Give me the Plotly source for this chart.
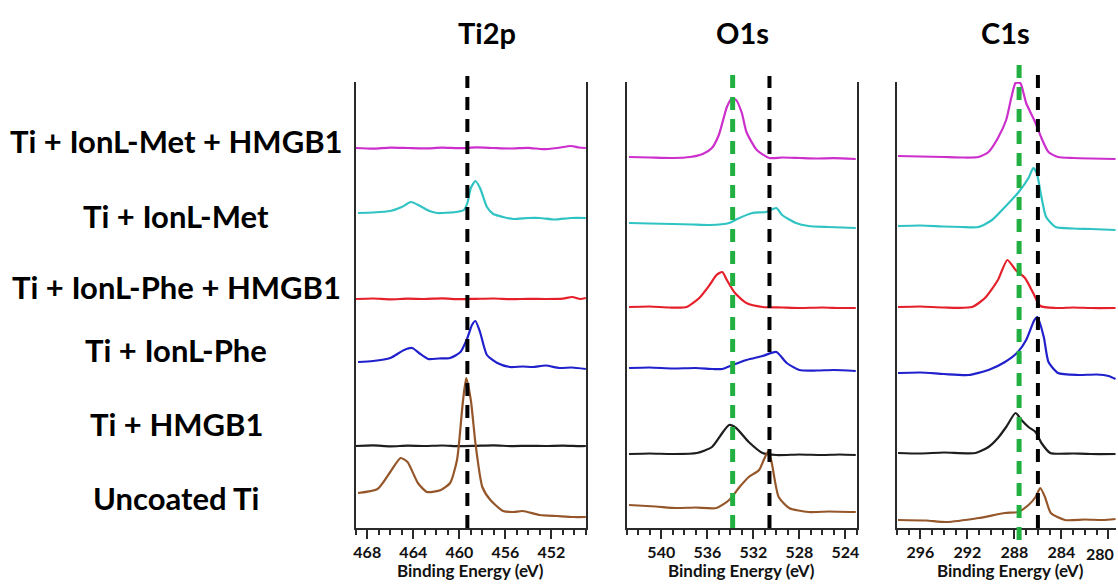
import plotly.graph_objects as go

W, H = 1118, 584

# ---------------- data (binding energy in eV, stacked intensity in a.u.) ----------------
samples = ["Ti + IonL-Met + HMGB1", "Ti + IonL-Met", "Ti + IonL-Phe + HMGB1",
           "Ti + IonL-Phe", "Ti + HMGB1", "Uncoated Ti"]
colors = ["#cc2fcc", "#30c3c3", "#e5202a", "#2020cc", "#1e1e1e", "#95562a"]
panel_titles = ["Ti2p", "O1s", "C1s"]

# Ti2p
ti_met_hmgb1_E = [469, 467.5, 466, 464.5, 463, 461.5, 460, 458.5, 457, 455.5, 454, 452.7, 451.5, 450.3, 449.6, 449]
ti_met_hmgb1_I = [380, 379.3, 380.4, 380, 379.6, 380.3, 379.8, 380.6, 380, 379.5, 380.2, 378.8, 380, 382, 380.5, 380]
ti_met_E = [468.8, 467.5, 466.0, 465.0, 464.2, 463.4, 462.6, 461.9, 460.3, 459.6, 459.3, 459.0, 458.6,
            458.2, 457.6, 457.05, 456.2, 455.3, 454.0, 453.0, 451.7, 450.3, 449.0]
ti_met_I = [315, 315.5, 317, 321, 326, 322, 317, 315, 316, 318, 325, 340, 347, 340, 321, 314, 311, 309,
            310, 310, 308.5, 310, 310]
ti_phe_hmgb1_E = [469, 467.5, 466, 464.5, 463, 461.5, 460, 458.5, 457, 455.5, 454, 452.5, 451, 450.2, 449.5, 449]
ti_phe_hmgb1_I = [229, 229.5, 228.7, 229.3, 229, 229.6, 228.8, 229.2, 229.5, 228.8, 229.2, 229, 229.4, 231, 229, 230]
ti_phe_E = [468.8, 467.5, 466.0, 464.8, 464.1, 463.5, 462.7, 461.8, 460.8, 459.9, 459.3, 458.9, 458.6, 458.2,
            457.6, 456.7, 455.6, 454.5, 453.6, 452.5, 451.3, 450.2, 449]
ti_phe_I = [166, 167, 170, 178, 180, 175, 169, 169.5, 170, 176, 190, 203, 207, 196, 173, 165, 161, 161.5,
            161, 162.5, 160, 160.5, 159]
ti_hmgb1_E = [469, 467.5, 466, 464.5, 463, 461.5, 460, 458.5, 457, 455.5, 454, 452.5, 451, 449.5, 449]
ti_hmgb1_I = [82, 82.6, 81.7, 82.3, 82, 82.5, 81.8, 82.2, 82.6, 81.9, 82.2, 82, 82.4, 81.8, 82]
ti_unc_E = [468.8, 467.1, 466.0, 465.1, 464.5, 463.6, 462.8, 461.6, 460.8, 460.2, 459.7, 459.4,
            459.0, 458.6, 458.0, 457.3, 456.2, 455.3, 454.5, 453.0, 451.5, 450.1, 449]
ti_unc_I = [35, 39, 56, 70, 66, 45, 36, 38, 45, 68, 125, 150, 128, 85, 41, 28, 17, 16, 17, 13, 12, 11, 11]

# O1s
o_met_hmgb1_E = [542.8, 541, 539, 537.5, 536.4, 535.6, 535.0, 534.3, 533.9, 533.5, 533.0, 532.6, 531.7,
                 530.6, 529.5, 528.0, 526.5, 525, 523.1]
o_met_hmgb1_I = [371, 370.5, 370, 371, 374, 380, 393, 421, 429, 428, 415, 396, 378, 370, 370.5, 370, 369.5, 369.8, 369]
o_met_E = [542.8, 541, 539, 537.3, 535.8, 534.1, 533.4, 532.1, 530.9, 530.0, 529.5, 528.3, 527.2, 525.5, 523.1]
o_met_I = [305, 304.5, 304, 303.5, 303, 305, 309, 315, 316, 320, 313, 305, 302, 301, 300]
o_phe_hmgb1_E = [542.8, 541, 539.3, 537.8, 536.7, 535.8, 535.2, 534.7, 534.3, 533.6, 532.6, 531.2, 529.5,
                 528, 526, 524.5, 523.1]
o_phe_hmgb1_I = [221, 221.5, 220.5, 221, 230, 243, 253, 256, 248, 235, 225, 221, 220.5, 220, 220.5, 220, 220]
o_phe_E = [542.8, 541, 539, 537, 535.5, 534.7, 533.8, 532.6, 531.2, 530.0, 529.1, 528.0, 526.5, 525, 523.1]
o_phe_I = [160, 160.5, 159.5, 160, 159, 159, 163, 168, 172, 176, 165, 158, 157.5, 158, 157]
o_hmgb1_E = [542.8, 541, 539, 536.9, 535.6, 534.7, 534.1, 533.5, 532.4, 531.2, 530.0, 528, 526, 524.5, 523.1]
o_hmgb1_I = [74, 74.5, 74, 75, 81, 95, 103, 100, 86, 75, 73, 73.5, 73, 73.5, 73]
o_unc_E = [542.8, 540.5, 538.7, 537, 535.2, 534.1, 533.2, 532.4, 531.5, 531.1, 530.7, 530.4, 529.8,
           528.9, 527.2, 525.5, 523.1]
o_unc_I = [23, 21.5, 20, 20.5, 20, 28, 41, 51, 58, 68, 77, 65, 31, 20, 16, 16.5, 16]

# C1s
c_met_hmgb1_E = [297.9, 296, 294, 292.5, 291.05, 290.2, 289.4, 288.7, 288.25, 287.9, 287.5, 287.0, 286.2,
                 285.7, 285.1, 284.3, 283, 281.5, 279.4]
c_met_hmgb1_I = [372, 371.5, 371, 370.5, 371, 376, 390, 408, 431, 445, 445, 425, 405, 390, 376, 371, 370, 369.5, 369]
c_met_E = [297.9, 296, 294, 292.5, 291.05, 289.9, 288.8, 287.7, 286.8, 286.4, 286.1, 285.7, 285.3, 284.5,
           283, 281.5, 279.4]
c_met_I = [302, 302.5, 301.5, 301, 301, 308, 321, 335, 350, 360, 355, 331, 311, 301, 299.5, 299, 298]
c_phe_hmgb1_E = [297.9, 296, 294, 291.6, 290.5, 289.4, 288.6, 287.9, 287.1, 286.4, 285.8, 284.5, 283,
                 281.5, 279.4]
c_phe_hmgb1_I = [221, 221.5, 220.5, 221, 230, 248, 268, 258, 250, 235, 222, 220, 220.5, 220, 220]
c_phe_E = [297.9, 296, 294, 291.9, 290.2, 288.8, 287.7, 287.0, 286.3, 286.05, 285.5, 285.1, 284.3,
           282.6, 281, 280.0, 279.4]
c_phe_I = [155, 155.5, 154, 153, 158, 166, 176, 188, 208, 211, 191, 166, 155, 153, 153.5, 152, 149]
c_hmgb1_E = [297.9, 296, 294, 291.3, 290.2, 289.4, 288.7, 287.9, 287.4, 286.8, 286.2, 285.7, 284.95,
             283, 281.5, 279.4]
c_hmgb1_I = [75, 74.5, 75.5, 75, 81, 90, 101, 115, 108, 101, 96, 85, 75, 74.5, 74, 74]
c_unc_E = [297.9, 295.5, 293.8, 291.05, 288.8, 287.7, 286.8, 286.2, 285.8, 285.4, 284.9, 283.7,
           282, 280.5, 279.4]
c_unc_I = [8, 7.5, 6, 10, 15, 16, 23, 31, 40, 31, 15, 8, 8.5, 8, 9]

ranges = [[469, 449], [543, 523], [298, 279.36]]
tick0s = [468, 540, 296]
edge_tick_label = "280"   # last C1s tick label, sitting at the cropped right edge
black_ref = [459.3, 530.6, 286.0]
green_ref = [None, 533.8, 287.6]

panels = [
    [(ti_met_hmgb1_E, ti_met_hmgb1_I), (ti_met_E, ti_met_I), (ti_phe_hmgb1_E, ti_phe_hmgb1_I),
     (ti_phe_E, ti_phe_I), (ti_hmgb1_E, ti_hmgb1_I), (ti_unc_E, ti_unc_I)],
    [(o_met_hmgb1_E, o_met_hmgb1_I), (o_met_E, o_met_I), (o_phe_hmgb1_E, o_phe_hmgb1_I),
     (o_phe_E, o_phe_I), (o_hmgb1_E, o_hmgb1_I), (o_unc_E, o_unc_I)],
    [(c_met_hmgb1_E, c_met_hmgb1_I), (c_met_E, c_met_I), (c_phe_hmgb1_E, c_phe_hmgb1_I),
     (c_phe_E, c_phe_I), (c_hmgb1_E, c_hmgb1_I), (c_unc_E, c_unc_I)],
]

# ---------------- layout geometry (pixels) ----------------
px_left = [355, 627, 898]
px_right = [586, 858, 1118]
plot_top, plot_bot = 82, 528

def fx(px):
    return px / W

def fy(py):
    return (H - py) / H

FONT = "Lato"
TICKFONT = dict(family=FONT, size=16, color="#111", weight="bold")
fig = go.Figure()

for p in range(3):
    sfx = "" if p == 0 else str(p + 1)
    for s in range(6):
        E, I = panels[p][s]
        fig.add_trace(go.Scatter(x=E, y=I, mode="lines", xaxis="x" + sfx, yaxis="y" + sfx,
                                 line=dict(color=colors[s], width=2.2, shape="spline", smoothing=0.6),
                                 showlegend=False, name=samples[s]))
    fig.layout["xaxis" + sfx] = dict(
        domain=[fx(px_left[p]), fx(px_right[p])], range=ranges[p], anchor="y" + sfx,
        showline=True, linecolor="#2a2a2a", linewidth=2, showgrid=False, zeroline=False,
        ticks="outside", ticklen=9, tickwidth=2, tickcolor="#2a2a2a",
        tick0=tick0s[p], dtick=4, ticklabeloverflow="hide past div",
        tickfont=TICKFONT,
        minor=dict(ticks="outside", ticklen=5, tickwidth=1.5, tickcolor="#2a2a2a", dtick=1,
                   tick0=tick0s[p], showgrid=False),
    )
    fig.layout["yaxis" + sfx] = dict(
        domain=[fy(plot_bot), fy(plot_top)], range=[0, 446], anchor="x" + sfx,
        showline=True, linecolor="#2a2a2a", linewidth=2, mirror=(p < 2),
        showticklabels=False, ticks="", showgrid=False, zeroline=False,
    )
    xr = "x" + sfx
    fig.add_shape(type="line", xref=xr, yref="paper", x0=black_ref[p], x1=black_ref[p],
                  y0=fy(528), y1=fy(76 if p < 2 else 66),
                  line=dict(color="black", width=4, dash="13px,9px"))
    if green_ref[p] is not None:
        fig.add_shape(type="line", xref=xr, yref="paper", x0=green_ref[p], x1=green_ref[p],
                      y0=fy(528 if p == 1 else 540), y1=fy(75 if p == 1 else 64),
                      line=dict(color="#22b040", width=5, dash="13px,9px"))

annotations = []
title_x = [487, 743, 1007]
for p in range(3):
    annotations.append(dict(text=panel_titles[p], x=fx(title_x[p]), y=fy(32), xref="paper", yref="paper",
                            showarrow=False, xanchor="center", yanchor="middle",
                            font=dict(family=FONT, size=29, color="black", weight="bold")))
axis_title_x = [470, 742, 1012]
for p in range(3):
    annotations.append(dict(text="Binding Energy (eV)", x=fx(axis_title_x[p]), y=fy(583), xref="paper", yref="paper",
                            showarrow=False, xanchor="center", yanchor="bottom",
                            font=dict(family=FONT, size=17, color="#111", weight="bold")))
# the C1s "280" tick label sits on the cropped right edge; keep it inside the page
annotations.append(dict(text=edge_tick_label, x=1.0, y=fy(553), xref="paper", yref="paper",
                        showarrow=False, xanchor="right", yanchor="middle", font=TICKFONT))
label_y = [141, 216, 287, 350, 424, 498]
for s in range(6):
    annotations.append(dict(text=samples[s], x=fx(175), y=fy(label_y[s]), xref="paper", yref="paper",
                            showarrow=False, xanchor="center", yanchor="middle",
                            font=dict(family=FONT, size=31, color="black", weight="bold")))

fig.update_layout(width=W, height=H, margin=dict(l=0, r=0, t=0, b=0),
                  paper_bgcolor="white", plot_bgcolor="white", annotations=annotations)

fig.write_html("out.html", config={"displayModeBar": False},
               post_script=("document.body.style.margin='0';"
                            "document.body.style.overflow='hidden';"
                            "document.documentElement.style.overflow='hidden';"))
